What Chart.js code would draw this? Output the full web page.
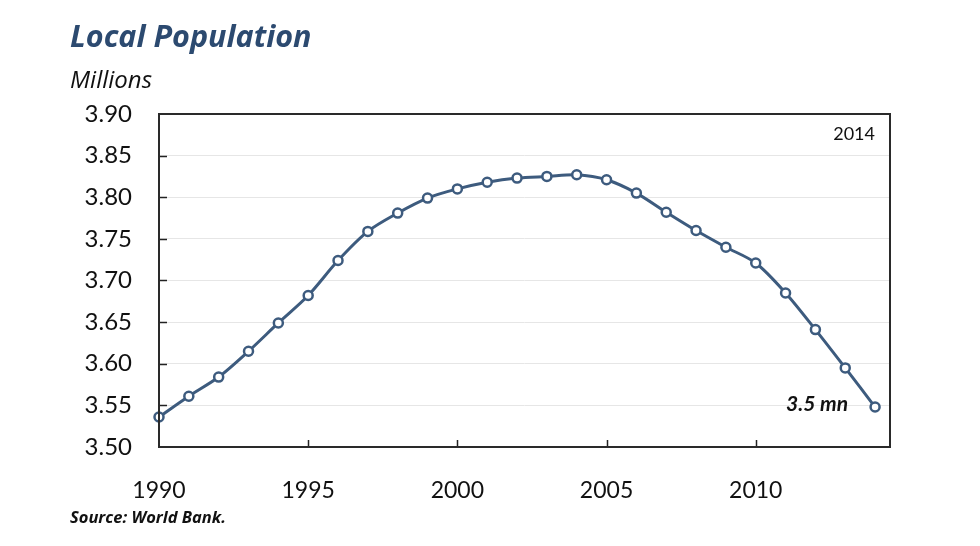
<!DOCTYPE html>
<html>
<head>
<meta charset="utf-8">
<script src="https://cdn.jsdelivr.net/npm/chart.js@4/dist/chart.umd.min.js"></script>
<style>
html,body{margin:0;padding:0;background:#fff;}
#wrap{position:relative;width:980px;height:546px;}
</style>
</head>
<body>
<div id="wrap"><canvas id="c" width="980" height="546"></canvas></div>
<script>
const years = [1990,1991,1992,1993,1994,1995,1996,1997,1998,1999,2000,2001,2002,2003,2004,2005,2006,2007,2008,2009,2010,2011,2012,2013,2014];
const population = [3.536,3.561,3.584,3.615,3.649,3.682,3.724,3.759,3.781,3.799,3.810,3.818,3.823,3.825,3.827,3.821,3.805,3.782,3.760,3.740,3.721,3.685,3.641,3.595,3.548];
const yTicks = [3.50,3.55,3.60,3.65,3.70,3.75,3.80,3.85,3.90];
const xTicks = [1990,1995,2000,2005,2010];

const titleText = "Local Population";
const unitText = "Millions";
const sourceText = "Source: World Bank.";
const cornerText = "2014";
const noteText = "3.5 mn";

const FONT = "Lato, 'Open Sans', sans-serif";
const FONT2 = "'Open Sans', Lato, sans-serif";
const LINE = "#3d5b7e";

const decor = {
  id: 'decor',
  afterDraw(chart) {
    const ctx = chart.ctx;
    const a = chart.chartArea;
    const xs = chart.scales.x, ys = chart.scales.y;
    ctx.save();
    // inward ticks
    ctx.strokeStyle = '#222';
    ctx.lineWidth = 1.5;
    yTicks.forEach(v => {
      if (v === yTicks[0] || v === yTicks[yTicks.length-1]) return;
      const y = Math.round(ys.getPixelForValue(v)) + 0.5;
      ctx.beginPath(); ctx.moveTo(a.left, y); ctx.lineTo(a.left + 8, y); ctx.stroke();
    });
    xTicks.forEach(v => {
      if (v === xTicks[0]) return;
      const x = Math.round(xs.getPixelForValue(v)) + 0.5;
      ctx.beginPath(); ctx.moveTo(x, a.bottom); ctx.lineTo(x, a.bottom - 7); ctx.stroke();
    });
    // frame
    ctx.strokeStyle = '#2a2a2a';
    ctx.lineWidth = 2;
    ctx.strokeRect(a.left, a.top, a.right - a.left, a.bottom - a.top);
    // texts
    ctx.textBaseline = 'alphabetic';
    ctx.textAlign = 'left';
    ctx.fillStyle = '#2c4a70';
    ctx.font = "italic bold 30.5px " + FONT2;
    ctx.fillText(titleText, 70, 47);
    ctx.fillStyle = '#111';
    ctx.font = "italic 24px " + FONT2;
    ctx.fillText(unitText, 70, 88);
    ctx.font = "italic bold 16.5px " + FONT2;
    ctx.fillText(sourceText, 70, 523);
    ctx.font = "18px " + FONT;
    ctx.textAlign = 'right';
    ctx.textBaseline = 'middle';
    ctx.fillText(cornerText, 875, 134);
    ctx.font = "italic bold 21px " + FONT;
    ctx.fillText(noteText, 848, 404);
    ctx.restore();
  }
};

new Chart(document.getElementById('c'), {
  type: 'line',
  data: {
    datasets: [{
      data: years.map((y, i) => ({x: y, y: population[i]})),
      borderColor: LINE,
      borderWidth: 3,
      pointRadius: 4.5,
      pointBorderWidth: 2.5,
      pointBackgroundColor: '#fff',
      pointBorderColor: LINE,
      tension: 0.3,
      clip: false
    }]
  },
  options: {
    responsive: false,
    animation: false,
    events: [],
    layout: { padding: { top: 114, right: 90, bottom: 40, left: 20 } },
    plugins: { legend: { display: false }, tooltip: { enabled: false } },
    scales: {
      x: {
        type: 'linear',
        min: 1990,
        max: 2014.5,
        afterFit(s) { s.height = 59; },
        afterBuildTicks(s) { s.ticks = xTicks.map(v => ({value: v})); },
        border: { display: false },
        grid: { display: false },
        ticks: {
          padding: 22,
          color: '#111',
          font: { family: FONT, size: 23 },
          callback: v => String(v),
          maxRotation: 0
        }
      },
      y: {
        min: 3.50,
        max: 3.90,
        afterFit(s) { s.width = 139; },
        afterBuildTicks(s) { s.ticks = yTicks.map(v => ({value: v})); },
        border: { display: false },
        grid: { color: '#e6e6e6', lineWidth: 1, drawTicks: false },
        ticks: {
          padding: 27,
          color: '#111',
          font: { family: FONT, size: 24 },
          callback: v => Number(v).toFixed(2)
        }
      }
    }
  },
  plugins: [decor]
});
</script>
</body>
</html>
